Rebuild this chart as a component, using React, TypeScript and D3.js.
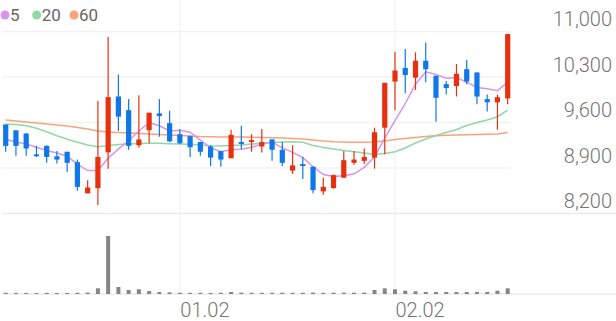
import React from 'react';
import * as d3 from 'd3';

const opens = [9570, 9480, 9430, 9110, 9240, 9080, 9150, 8990, 8510, 8590, 9140, 10000, 9790, 9250, 9480, 9740, 9590, 9420, 9390, 9300, 9230, 9160, 9050, 9300, 9300, 9230, 9340, 9180, 8860, 8960, 8920, 8540, 8590, 8750, 8980, 9010, 9060, 9520, 10230, 10440, 10290, 10550, 10320, 10190, 10160, 10420, 10370, 9960, 9910, 9970];
const highs = [9570, 9480, 9440, 9240, 9250, 9160, 9150, 9030, 8710, 9930, 10920, 10340, 9960, 10020, 9750, 9960, 9780, 9500, 9400, 9300, 9250, 9160, 9490, 9550, 9420, 9500, 9340, 9300, 9250, 9070, 8920, 8750, 8800, 9160, 9160, 9200, 9520, 10210, 10690, 10730, 10680, 10830, 10320, 10240, 10500, 10560, 10370, 10030, 10030, 10960];
const lows = [9150, 9090, 9090, 9070, 8980, 8970, 8840, 8550, 8510, 8330, 8890, 9470, 9180, 9210, 9280, 9380, 9300, 9270, 9070, 9090, 8930, 8920, 9050, 9190, 9150, 9140, 9010, 8930, 8810, 8730, 8510, 8490, 8580, 8750, 8950, 8960, 8890, 9110, 9790, 10050, 10100, 10220, 9610, 10030, 10000, 10190, 9880, 9770, 9490, 9880];
const closes = [9240, 9240, 9200, 9080, 9070, 9030, 8980, 8610, 8600, 9070, 9990, 9690, 9240, 9340, 9750, 9700, 9310, 9280, 9220, 9150, 9060, 9030, 9410, 9270, 9330, 9300, 9180, 8980, 8940, 8930, 8560, 8610, 8790, 9020, 9030, 9070, 9450, 10210, 10400, 10330, 10550, 10420, 9980, 10130, 10350, 10230, 10000, 9910, 9990, 10960];
const volumes = [60, 55, 55, 50, 55, 50, 55, 60, 70, 285, 2900, 350, 200, 235, 150, 100, 80, 60, 60, 60, 55, 60, 100, 70, 60, 60, 60, 65, 60, 60, 70, 60, 65, 70, 65, 70, 200, 285, 235, 165, 135, 100, 100, 100, 100, 100, 100, 100, 165, 285];
const ma5 = [9340, 9300, 9270, 9220, 9170, 9130, 9080, 8960, 8860, 8860, 9050, 9190, 9320, 9470, 9600, 9550, 9470, 9480, 9450, 9330, 9210, 9150, 9180, 9190, 9220, 9270, 9300, 9210, 9140, 9060, 8920, 8800, 8770, 8780, 8810, 8910, 9070, 9360, 9630, 9890, 10190, 10380, 10340, 10280, 10290, 10220, 10140, 10120, 10090, 10220];
const ma20 = [9572, 9569, 9551, 9511, 9458, 9397, 9342, 9295, 9254, 9228, 9246, 9262, 9269, 9277, 9282, 9282, 9274, 9269, 9265, 9254, 9243, 9238, 9246, 9254, 9269, 9280, 9292, 9300, 9305, 9295, 9246, 9215, 9192, 9169, 9151, 9131, 9108, 9123, 9151, 9208, 9285, 9346, 9400, 9446, 9492, 9554, 9600, 9638, 9689, 9792];
const ma60 = [9638, 9623, 9608, 9592, 9577, 9562, 9546, 9523, 9500, 9469, 9454, 9446, 9438, 9431, 9423, 9415, 9408, 9400, 9392, 9385, 9382, 9377, 9377, 9377, 9372, 9369, 9366, 9362, 9354, 9346, 9331, 9315, 9305, 9300, 9295, 9295, 9300, 9315, 9338, 9354, 9369, 9385, 9397, 9403, 9408, 9412, 9415, 9418, 9423, 9446];
const priceTicks = [11000, 10300, 9600, 8900, 8200];
const xTickIndex = [17, 38];
const xTickLabels = ['01.02', '02.02'];
const legendLabels = ['5', '20', '60'];

const UP = '#e8300e';
const DOWN = '#1077ea';
const MA_COLORS = ['#d595ee', '#8fd9a2', '#fba27c'];
const FONT = 'Roboto, "Noto Sans", sans-serif';

export default function App() {
  const W = 616, H = 321;
  const n = closes.length;
  const x = d3.scaleLinear().domain([0, n - 1]).range([5.7, 507.7]);
  const y = d3.scaleLinear().domain([8200, 11000]).range([213.5, 31.5]);
  const yv = d3.scaleLinear().domain([0, 4000]).range([294, 214]);
  const idx = d3.range(n);
  const mas = [ma5, ma20, ma60];
  const lineGen = (arr: number[]) =>
    d3.line<number>().x((i) => x(i)).y((i) => y(arr[i]))(idx) || '';
  const bodyW = 5.2;
  const volW = 4;

  return (
    <svg width={W} height={H} style={{ position: 'absolute', left: 0, top: 0, background: '#fff' }}>
      <rect x={0} y={0} width={W} height={H} fill="#fff" />
      {xTickIndex.map((ti) => (
        <line key={'vg' + ti} x1={x(ti)} x2={x(ti)} y1={0} y2={294} stroke="#efefef" strokeWidth={1} />
      ))}
      {priceTicks.slice(0, 4).map((t) => (
        <line key={'hg' + t} x1={2} x2={511} y1={y(t)} y2={y(t)} stroke="#f2f2f2" strokeWidth={1.5} />
      ))}
      <line x1={2} x2={W} y1={y(8200)} y2={y(8200)} stroke="#ebebeb" strokeWidth={1.5} />
      <line x1={2} x2={W} y1={yv(0)} y2={yv(0)} stroke="#ebebeb" strokeWidth={1.5} />

      {mas.map((arr, k) => (
        <path key={'ma' + k} d={lineGen(arr)} fill="none" stroke={MA_COLORS[k]} strokeWidth={1.5} />
      )).reverse()}

      {idx.map((i) => {
        const up = closes[i] >= opens[i];
        const c = up ? UP : DOWN;
        const top = y(Math.max(opens[i], closes[i]));
        const bot = y(Math.min(opens[i], closes[i]));
        return (
          <g key={'c' + i}>
            <line x1={x(i)} x2={x(i)} y1={y(highs[i])} y2={y(lows[i])} stroke={c} strokeWidth={1.2} />
            <rect x={x(i) - bodyW / 2} y={top} width={bodyW} height={Math.max(1.5, bot - top)} fill={c} />
          </g>
        );
      })}

      {idx.map((i) => (
        <rect key={'v' + i} x={x(i) - volW / 2} y={yv(volumes[i])} width={volW} height={yv(0) - yv(volumes[i])} fill="#858585" />
      ))}

      {priceTicks.map((t) => (
        <text key={'yl' + t} x={612} y={y(t) - 5.5} textAnchor="end" fontFamily={FONT} fontSize={20} fontWeight={300} fill="#747474">
          {d3.format(',')(t)}
        </text>
      ))}

      {xTickIndex.map((ti, k) => (
        <text key={'xl' + ti} x={x(ti) + 0.5} y={317} fontFamily={FONT} fontSize={20} fontWeight={300} fill="#747474">
          {xTickLabels[k]}
        </text>
      ))}

      {legendLabels.map((lab, k) => {
        const cx = [5, 36.7, 74][k];
        return (
          <g key={'lg' + k}>
            <circle cx={cx} cy={15} r={4.5} fill={MA_COLORS[k]} />
            <text x={cx + 5} y={20.7} fontFamily={FONT} fontSize={17} fill="#666">{lab}</text>
          </g>
        );
      })}
    </svg>
  );
}
